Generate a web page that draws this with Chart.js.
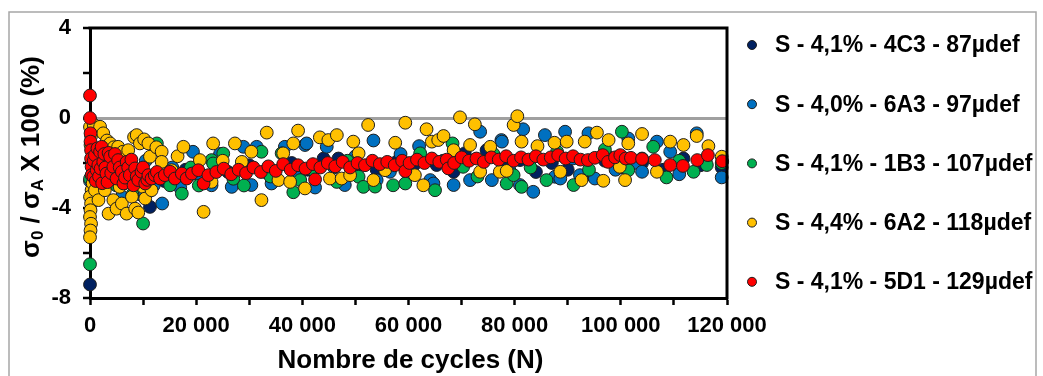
<!DOCTYPE html>
<html>
<head>
<meta charset="utf-8">
<script src="https://cdn.jsdelivr.net/npm/chart.js@4/dist/chart.umd.min.js"></script>
<style>
html,body{margin:0;padding:0;background:#fff;}
canvas{display:block;}
</style>
</head>
<body>
<canvas id="c" width="1043" height="376"></canvas>
<script>
// ---------- DATA ----------
const seriesLabels = [
  'S - 4,1% - 4C3 - 87µdef',
  'S - 4,0% - 6A3 - 97µdef',
  'S - 4,1% - 1B3 - 107µdef',
  'S - 4,4% - 6A2 - 118µdef',
  'S - 4,1% - 5D1 - 129µdef'
];
const xTickLabels = ['0', '20 000', '40 000', '60 000', '80 000', '100 000', '120 000'];
const yTickLabels = ['4', '0', '-4', '-8'];

// [cycles N, sigma0/sigmaA x 100 (%)]
const navyPts = [[0,-7.4],[300,-2.6],[600,-3.0],[1500,-2.2],[3000,-2.6],[5000,-2.9],[7000,-2.4],[9000,-3.1],[11300,-3.95],[14000,-2.8],[18000,-2.3],[22000,-2.6],[26000,-2.4],[30000,-2.1],[34000,-2.5],[38000,-2.0],[41000,-2.3],[44000,-1.8],[46800,-1.8],[50000,-2.2],[54000,-2.3],[57800,-1.94],[61000,-2.1],[65300,-2.09],[68500,-2.39],[70600,-1.57],[74700,-1.43],[78000,-2.2],[81000,-1.87],[84000,-2.4],[87000,-2.0],[90000,-2.3],[94000,-2.5],[97000,-1.9],[100000,-2.2],[104000,-2.0],[108000,-2.3],[111800,-1.8],[115000,-2.1],[119000,-2.2]];

const bluePts = [[0,-2.8],[500,-3.3],[1200,-2.0],[2500,-3.2],[4000,-2.2],[6000,-3.5],[8000,-2.6],[9500,-3.4],[10500,-1.9],[12000,-3.0],[13600,-3.8],[15500,-2.2],[17000,-3.1],[19400,-1.5],[21000,-2.8],[22900,-2.99],[24500,-1.6],[26700,-3.06],[28900,-1.28],[30400,-2.98],[31400,-1.28],[33000,-2.4],[34200,-2.91],[36700,-1.28],[38500,-2.5],[40500,-1.2],[40800,-1.13],[42400,-3.09],[44600,-1.28],[46000,-2.2],[48000,-2.98],[50000,-1.7],[53400,-1.0],[54000,-2.76],[56500,-2.39],[58500,-1.6],[60000,-2.5],[62000,-1.25],[64100,-2.76],[64700,-2.91],[66500,-1.9],[68500,-2.98],[71600,-2.76],[73500,-0.61],[75700,-2.76],[77500,-0.98],[77600,-1.05],[79000,-2.3],[81000,-2.98],[81600,-0.5],[83500,-3.28],[85700,-0.76],[87600,-2.61],[88600,-2.69],[89500,-0.61],[91000,-1.8],[92300,-2.54],[93900,-0.68],[95100,-2.69],[97500,-1.7],[99000,-2.3],[101400,-0.91],[103000,-2.0],[104000,-2.39],[106800,-1.05],[109300,-1.5],[111000,-2.5],[114300,-0.68],[116000,-1.9],[119000,-2.64]];

const greenPts = [[0,-6.5],[0,-2.7],[300,-3.6],[800,-2.3],[2000,-3.3],[3500,-2.0],[5000,-3.0],[6500,-2.4],[8000,-3.4],[10000,-4.69],[11000,-3.28],[12600,-1.13],[14000,-2.6],[15100,-2.99],[17300,-3.36],[19000,-2.2],[20500,-3.0],[22900,-1.87],[23200,-2.02],[25100,-1.58],[27000,-2.7],[29000,-3.0],[32300,-1.5],[34000,-2.6],[36100,-1.57],[38300,-3.3],[39600,-2.76],[42000,-2.3],[46500,-2.84],[48500,-1.9],[50600,-2.61],[51500,-3.06],[53700,-3.05],[57100,-2.99],[59400,-2.91],[62200,-1.57],[65000,-3.21],[68300,-1.13],[70300,-2.17],[73000,-2.6],[76000,-1.6],[78500,-2.91],[79800,-2.54],[81300,-3.06],[83000,-2.2],[86000,-2.76],[88000,-1.5],[91100,-2.98],[94000,-2.3],[97000,-1.4],[100200,-0.61],[101400,-2.32],[104000,-1.8],[106100,-1.28],[108600,-2.64],[111000,-1.9],[113700,-2.39],[116200,-2.09],[119000,-2.0]];

const yellowPts = [[0,-0.4],[200,-0.8],[100,-1.2],[300,-3.2],[0,-3.5],[200,-3.8],[100,-4.1],[0,-4.4],[200,-4.7],[100,-5.0],[0,-5.3],[500,-2.9],[700,-0.3],[940,-3.21],[1500,-2.2],[1600,-3.65],[1900,-0.39],[2500,-0.68],[2800,-3.21],[3000,-2.6],[3200,-1.0],[3500,-4.25],[3800,-1.13],[4400,-3.65],[4500,-1.3],[4600,-2.0],[5000,-4.03],[5300,-1.28],[5600,-3.06],[6000,-3.8],[6200,-1.5],[6500,-2.9],[6900,-4.25],[7200,-1.43],[7900,-3.5],[8000,-2.3],[8300,-0.85],[8500,-4.03],[8800,-0.76],[9100,-4.2],[9400,-1.13],[9500,-2.7],[10000,-3.06],[10200,-0.95],[10400,-3.58],[11000,-1.13],[11300,-1.72],[11600,-3.21],[12500,-1.3],[13500,-1.5],[13500,-1.95],[15400,-2.32],[16500,-1.7],[17600,-1.28],[19000,-2.5],[20700,-1.87],[21400,-4.17],[22900,-2.84],[23200,-1.13],[25000,-1.9],[27300,-1.13],[28600,-1.95],[30400,-1.5],[32300,-3.65],[33300,-0.65],[35500,-2.76],[36400,-1.57],[37700,-2.84],[38300,-1.13],[39200,-0.56],[40500,-3.13],[43300,-0.86],[44900,-0.98],[45200,-2.69],[46500,-0.76],[47400,-2.69],[49000,-2.54],[49600,-1.05],[50600,-1.57],[52400,-0.31],[53400,-2.76],[55600,-2.32],[57500,-1.1],[59400,-0.21],[61200,-2.54],[62800,-2.99],[63400,-0.5],[64400,-1.05],[65600,-0.98],[66600,-0.8],[68500,-1.43],[69700,0.03],[71600,-1.2],[72500,-0.28],[73500,-2.39],[75400,-1.28],[77200,-2.39],[78500,-2.35],[79800,-0.31],[80500,0.08],[81300,-1.05],[84300,-1.25],[87500,-1.1],[88600,-2.39],[89800,-1.05],[92600,-2.76],[93200,-1.05],[95500,-0.65],[96700,-2.79],[97700,-0.98],[99800,-2.17],[100800,-2.76],[101400,-1.13],[104000,-0.71],[106800,-2.39],[109300,-1.05],[111800,-1.2],[114300,-0.8],[116500,-1.25],[119000,-1.72]];

const redPts = [[0,1.0],[0,0.0],[100,-0.68],[100,-1.05],[200,-1.43],[200,-1.8],[300,-2.17],[300,-2.54],[630,-2.61],[700,-1.9],[940,-1.65],[1100,-2.8],[1260,-2.32],[1400,-1.35],[1570,-2.09],[1700,-2.6],[1900,-1.5],[2000,-2.25],[2200,-1.28],[2300,-2.9],[2500,-1.95],[2700,-1.6],[2900,-2.2],[3100,-2.47],[3300,-2.85],[3500,-1.55],[3800,-1.72],[4000,-2.45],[4400,-2.17],[4700,-1.6],[5000,-2.69],[5300,-1.87],[5600,-2.2],[6000,-2.39],[6300,-2.91],[6600,-2.65],[6900,-1.95],[7200,-2.2],[7500,-2.54],[7800,-1.85],[8200,-2.99],[8500,-2.24],[8800,-2.6],[9100,-2.76],[9700,-2.39],[10000,-2.2],[10400,-2.91],[10800,-2.75],[11000,-2.54],[11600,-2.69],[12200,-2.54],[12600,-2.4],[13200,-2.69],[14100,-2.54],[15100,-2.39],[16000,-2.69],[17300,-2.47],[18200,-2.69],[19200,-2.47],[20400,-2.32],[21400,-2.91],[22300,-2.54],[23800,-2.4],[25200,-2.25],[26600,-2.5],[28000,-2.3],[29400,-2.45],[30800,-2.2],[32200,-2.4],[33600,-2.15],[35000,-2.35],[36400,-2.05],[37800,-2.3],[39200,-2.1],[40600,-2.25],[42000,-2.05],[42400,-2.73],[43400,-2.2],[44800,-2.0],[46200,-2.15],[47600,-1.95],[49000,-2.2],[50400,-2.0],[51800,-2.1],[53200,-1.9],[54600,-2.05],[56000,-1.95],[57400,-2.1],[58800,-1.9],[59400,-2.36],[60200,-2.0],[61600,-1.85],[63000,-2.0],[64400,-1.8],[65800,-1.95],[67200,-1.85],[67500,-2.24],[68600,-2.0],[70000,-1.75],[71400,-1.9],[72800,-1.8],[74200,-1.95],[75600,-1.75],[77000,-1.85],[78400,-1.7],[79800,-1.9],[81200,-1.75],[82600,-1.85],[84000,-1.7],[85400,-1.85],[86800,-1.75],[88200,-1.65],[89600,-1.8],[91000,-1.7],[92400,-1.85],[93800,-1.87],[95100,-1.77],[96600,-1.65],[97600,-1.95],[98900,-1.75],[99900,-1.65],[100900,-1.8],[101900,-1.77],[104000,-1.82],[106400,-1.87],[109300,-2.09],[111700,-2.13],[114400,-1.87],[116400,-1.65],[119100,-1.92]];

const allSeries = [navyPts, bluePts, greenPts, yellowPts, redPts];

// ---------- STYLE ----------
const colors = ['#002060', '#0070C0', '#00B050', '#FFC000', '#FF0000'];
const FONT = '"Liberation Sans", Arial, sans-serif';

const datasets = allSeries.map((pts, i) => ({
  label: seriesLabels[i],
  data: pts.map(p => ({x: p[0], y: p[1]})),
  backgroundColor: colors[i],
  borderColor: '#1e1e1e',
  borderWidth: 1,
  pointRadius: 6.4,
  pointHoverRadius: 6.4,
  order: allSeries.length - i,
  clip: false
}));

const decorPlugin = {
  id: 'decor',
  afterDatasetsDraw(chart) {
    const ctx = chart.ctx, ca = chart.chartArea;
    ctx.save();
    ctx.strokeStyle = '#000';
    ctx.lineWidth = 3;
    ctx.beginPath();
    ctx.moveTo(ca.left - 1.5, ca.top);
    ctx.lineTo(ca.right, ca.top);
    ctx.lineTo(ca.right, ca.bottom + 1.5);
    ctx.stroke();
    ctx.restore();
  },
  afterDraw(chart) {
    const ctx = chart.ctx, ca = chart.chartArea;
    ctx.save();
    // outer frame
    ctx.strokeStyle = '#a6a6a6';
    ctx.lineWidth = 1.5;
    ctx.strokeRect(9, 12, 1027, 380);

    ctx.fillStyle = '#000';
    // x axis title
    ctx.font = 'bold 26px ' + FONT;
    ctx.textAlign = 'center';
    ctx.textBaseline = 'alphabetic';
    ctx.fillText('Nombre de cycles (N)', (ca.left + ca.right) / 2 + 2, 368);

    // y axis title with subscripts
    const big = 'bold 26px ' + FONT, small = 'bold 17px ' + FONT;
    const parts = [['σ', big, 0], ['0', small, 4], [' / σ', big, 0], ['A', small, 4], [' X 100 (%)', big, 0]];
    let total = 0;
    parts.forEach(p => { ctx.font = p[1]; total += ctx.measureText(p[0]).width; });
    ctx.translate(39, 157);
    ctx.rotate(-Math.PI / 2);
    ctx.textAlign = 'left';
    let xx = -total / 2;
    parts.forEach(p => {
      ctx.font = p[1];
      ctx.fillText(p[0], xx, p[2]);
      xx += ctx.measureText(p[0]).width;
    });
    ctx.setTransform(1, 0, 0, 1, 0, 0);

    // legend
    ctx.font = 'bold 23px ' + FONT;
    ctx.textBaseline = 'middle';
    ctx.textAlign = 'left';
    chart.data.datasets.forEach((ds, i) => {
      const yy = 45 + i * 59.2;
      ctx.beginPath();
      ctx.arc(752, yy, 4.5, 0, Math.PI * 2);
      ctx.fillStyle = ds.backgroundColor;
      ctx.fill();
      ctx.lineWidth = 1;
      ctx.strokeStyle = '#1e1e1e';
      ctx.stroke();
      ctx.fillStyle = '#000';
      ctx.fillText(ds.label, 775, yy + 1);
    });
    ctx.restore();
  }
};

new Chart(document.getElementById('c'), {
  type: 'scatter',
  data: { datasets },
  options: {
    responsive: false,
    animation: false,
    devicePixelRatio: 1,
    events: [],
    layout: { padding: { left: 0, top: 28, right: 316, bottom: 0 } },
    plugins: { legend: { display: false }, tooltip: { enabled: false }, title: { display: false } },
    scales: {
      x: {
        type: 'linear',
        min: 0, max: 120000,
        afterFit: s => { s.height = 78; },
        border: { color: '#000', width: 3 },
        grid: { drawOnChartArea: false, drawTicks: true, tickLength: 7, tickColor: '#000', tickWidth: 2.5 },
        ticks: {
          stepSize: 10000, autoSkip: false, maxRotation: 0, minRotation: 0,
          padding: 8, color: '#000',
          font: { family: FONT, size: 22, weight: 'bold' },
          callback: v => (v % 20000 === 0 ? xTickLabels[v / 20000] : '')
        },
        title: { display: false }
      },
      y: {
        type: 'linear',
        min: -8, max: 4,
        afterFit: s => { s.width = 90; },
        border: { color: '#000', width: 3 },
        grid: {
          drawOnChartArea: true, drawTicks: true, tickLength: 7,
          color: c => (c.tick && c.tick.value === 0 ? '#a0a0a0' : 'rgba(0,0,0,0)'),
          lineWidth: c => (c.tick && c.tick.value === 0 ? 3 : 0),
          tickColor: '#000', tickWidth: 2.5
        },
        ticks: {
          stepSize: 2, autoSkip: false, padding: 12, color: '#000',
          font: { family: FONT, size: 22, weight: 'bold' },
          callback: v => (yTickLabels.includes(String(v)) ? String(v) : '')
        },
        title: { display: false }
      }
    }
  },
  plugins: [decorPlugin]
});
</script>
</body>
</html>
